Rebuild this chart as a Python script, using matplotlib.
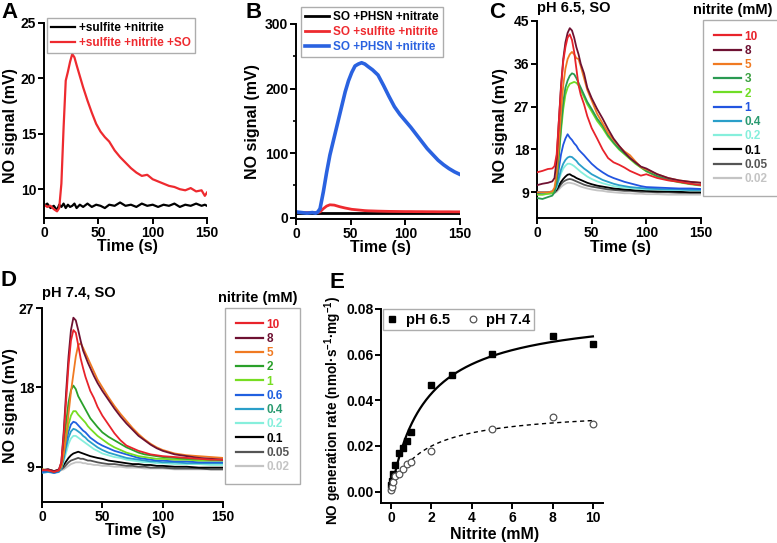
import matplotlib
matplotlib.use('Agg')
import matplotlib.pyplot as plt
import numpy as np
from matplotlib.ticker import FormatStrFormatter, MultipleLocator

plt.rcParams['font.family'] = ['Liberation Sans', 'DejaVu Sans']
plt.rcParams['font.weight'] = 'bold'
plt.rcParams['axes.labelweight'] = 'bold'
plt.rcParams['mathtext.fontset'] = 'custom'
plt.rcParams['mathtext.rm'] = 'Liberation Sans:bold'
plt.rcParams['mathtext.default'] = 'rm'

# ---------------- data ----------------
# panel A
tA = [0, 3, 6, 9, 12, 14, 16, 18, 20, 22, 24, 26, 28, 30, 33, 36, 40, 44, 48, 52, 56, 60,
      65, 70, 75, 80, 85, 90, 95, 100, 105, 110, 115, 120, 125, 130, 135, 140, 145, 148, 150]
a_so = [8.6, 8.4, 8.5, 8.2, 8.0, 8.3, 10.5, 15.5, 19.8, 20.6, 21.5, 22.2, 21.9, 21.2, 20.2, 19.2,
        18.0, 16.9, 15.9, 15.2, 14.7, 14.3, 13.5, 12.9, 12.4, 11.9, 11.5, 11.2, 11.3, 10.9, 10.7,
        10.5, 10.3, 10.2, 10.0, 9.9, 10.1, 9.8, 9.9, 9.4, 9.7]
a_ctrl = [8.5, 8.7, 8.3, 8.5, 8.1, 8.6, 8.4, 8.7, 8.3, 8.6, 8.4, 8.5, 8.7, 8.3, 8.6, 8.4, 8.7,
          8.4, 8.6, 8.5, 8.3, 8.6, 8.5, 8.8, 8.5, 8.6, 8.4, 8.7, 8.5, 8.6, 8.4, 8.6, 8.5, 8.7,
          8.4, 8.6, 8.5, 8.7, 8.5, 8.6, 8.5]
a_labels = ['+sulfite +nitrite', '+sulfite +nitrite +SO']

# panel B
tB = [0, 5, 10, 15, 18, 20, 22, 25, 28, 31, 35, 40, 45, 48, 51, 54, 57, 60, 63, 66, 70, 75,
      80, 85, 90, 95, 100, 105, 110, 115, 120, 125, 130, 135, 140, 145, 150]
b_phsn_nitrite = [9, 8, 7, 8, 7, 9, 14, 40, 70, 97, 125, 160, 195, 212, 225, 235, 238, 240, 238,
                  234, 229, 221, 205, 188, 172, 160, 150, 140, 129, 118, 107, 98, 89, 82, 76, 71, 67]
b_sulfite = [8, 8, 8, 8, 8, 8, 9, 14, 18, 20, 19.5, 17, 15, 14, 13, 12.5, 12, 11.5, 11, 10.7,
             10.5, 10.2, 10, 9.8, 9.7, 9.6, 9.5, 9.5, 9.4, 9.4, 9.3, 9.3, 9.2, 9.2, 9.2, 9.1, 9.1]
b_nitrate = [7.5] * len(tB)
b_labels = ['SO +PHSN +nitrate', 'SO +sulfite +nitrite', 'SO +PHSN +nitrite']

# panels C and D (same time grid)
tCD = [0, 5, 10, 14, 16, 18, 20, 22, 24, 26, 28, 30, 32, 34, 36, 38, 40, 43, 46, 50, 55, 60,
       65, 70, 75, 80, 85, 90, 95, 100, 110, 120, 130, 140, 150]

c_labels = ['10', '8', '5', '3', '2', '1', '0.4', '0.2', '0.1', '0.05', '0.02']
c_traces = [
    [13.2, 13.5, 13.9, 14.0, 14.5, 17, 24, 31, 36.5, 39.5, 41.5, 42.2, 41, 38.5, 35, 31.5, 29.5,
     27.5, 25, 22.5, 20.3, 18, 16.2, 15.3, 14.8, 14.2, 13.5, 13, 12.5, 12.8, 12, 11.5, 11.2, 10.8, 10.5],
    [10.5, 10.8, 11, 11.3, 12, 16, 24, 31.5, 37, 40.5, 42.5, 43.5, 43, 41.5, 39.5, 38, 36, 34, 31,
     28.8, 26.5, 24.5, 22.3, 20.3, 18.8, 17.4, 16.2, 15.3, 14.4, 14, 12.8, 12, 11.5, 11.2, 11],
    [9, 9, 9, 9.2, 10, 13, 19, 26, 31.5, 35, 37, 38, 38.5, 38, 37.2, 37, 35.5, 33, 30.5, 28.3,
     25.5, 23.5, 21.5, 20, 18.7, 17.6, 16.8, 15.5, 14.3, 13.8, 12.8, 12, 11.5, 11.2, 11],
    [7.8, 7.6, 8, 8.3, 9, 11.5, 17, 23, 28, 31, 32.5, 33.5, 34, 33.8, 33, 32, 31, 29.5, 28, 26.5,
     24.5, 23, 21, 19.5, 18.2, 17.2, 16.2, 15.2, 14.3, 13.5, 12.4, 11.7, 11.2, 10.8, 10.5],
    [8.5, 8.5, 8.7, 8.8, 9.5, 11.5, 16.5, 22, 26.5, 29.5, 31, 31.8, 32, 32.2, 32, 31.5, 30.5, 29,
     27.5, 26, 24, 22.5, 20.7, 19.3, 18, 17, 16, 15, 14.2, 13.4, 12.3, 11.6, 11.1, 10.7, 10.4],
    [9, 9, 9, 9.2, 9.5, 11, 14, 17, 19, 20.3, 21.2, 20.5, 20, 19.3, 18.8, 18, 17.5, 16.8, 16, 15,
     14, 13.2, 12.5, 12, 11.6, 11.2, 10.9, 10.6, 10.3, 10.1, 10, 9.9, 9.8, 9.8, 9.7],
    [9, 8.8, 9, 9, 9.3, 10.3, 12, 13.8, 15, 15.8, 16.3, 16.5, 16.4, 16, 15.6, 15, 14.6, 14, 13.5,
     12.8, 12.2, 11.6, 11.2, 10.8, 10.5, 10.3, 10.1, 10, 9.9, 9.8, 9.7, 9.6, 9.6, 9.5, 9.5],
    [9, 9, 8.9, 9, 9.2, 10, 11.5, 13, 14, 14.6, 15, 15, 14.8, 14.5, 14.1, 13.7, 13.3, 12.8, 12.3,
     11.8, 11.3, 10.9, 10.6, 10.3, 10.1, 10, 9.9, 9.8, 9.7, 9.6, 9.6, 9.5, 9.5, 9.4, 9.4],
    [8.8, 8.7, 8.9, 9, 9.1, 9.6, 10.4, 11.2, 11.8, 12.3, 12.7, 12.8, 12.5, 12.3, 12, 11.8, 11.6,
     11.3, 11, 10.7, 10.4, 10.2, 10, 9.8, 9.7, 9.6, 9.5, 9.4, 9.4, 9.3, 9.2, 9.2, 9.1, 9.0, 9.0],
    [8.7, 8.8, 8.8, 8.9, 9, 9.4, 10, 10.7, 11.2, 11.5, 11.7, 11.8, 11.7, 11.5, 11.3, 11.1, 10.9,
     10.6, 10.4, 10.2, 10, 9.8, 9.6, 9.5, 9.4, 9.3, 9.3, 9.2, 9.1, 9.1, 9, 9, 8.9, 8.9, 8.9],
    [8.6, 8.5, 8.7, 8.7, 8.8, 9.1, 9.6, 10.1, 10.5, 10.8, 11, 11, 10.9, 10.8, 10.6, 10.4, 10.2,
     10, 9.8, 9.6, 9.4, 9.3, 9.1, 9, 8.9, 8.8, 8.8, 8.7, 8.7, 8.6, 8.6, 8.5, 8.5, 8.5, 8.5],
]

d_labels = ['10', '8', '5', '2', '1', '0.6', '0.4', '0.2', '0.1', '0.05', '0.02']
d_traces = [
    [8.6, 8.6, 8.4, 8.6, 9.5, 12.5, 16.5, 20.5, 23.3, 24.5, 24.2, 22.8, 21.3, 20.2, 19.2, 18.4,
     17.6, 16.8, 15.8, 14.8, 13.8, 12.8, 12, 11.4, 11.1, 10.8, 10.6, 10.4, 10.3, 10.2, 10.1, 10, 9.9, 9.8, 9.8],
    [8.6, 8.7, 8.5, 8.7, 9.5, 13, 17.5, 21.5, 24.5, 25.9, 25.6, 24.5, 23.3, 22.2, 21.5, 20.8, 20.2,
     19.3, 18.5, 17.6, 16.6, 15.6, 14.7, 13.9, 13.2, 12.5, 12, 11.5, 11.1, 10.8, 10.4, 10.2, 10, 9.9, 9.8],
    [8.7, 8.6, 8.5, 8.6, 9, 10.5, 12.5, 15, 17.5, 19.5, 21.5, 22.8, 23, 22.5, 21.9, 21.3, 20.7,
     19.8, 18.9, 18, 16.9, 15.9, 15, 14.2, 13.4, 12.7, 12.1, 11.6, 11.2, 10.9, 10.5, 10.3, 10.2, 10.1, 10],
    [8.6, 8.6, 8.4, 8.6, 9.2, 11.5, 14, 16.3, 17.7, 18.2, 17.8, 17, 16.5, 16, 15.5, 15, 14.5, 14,
     13.5, 12.9, 12.4, 12, 11.6, 11.2, 10.9, 10.6, 10.4, 10.3, 10.2, 10.1, 10, 9.9, 9.9, 9.8, 9.8],
    [8.7, 8.6, 8.5, 8.6, 9, 10.5, 12.3, 13.8, 14.8, 15.3, 15.3, 14.9, 14.6, 14.3, 14, 13.6, 13.3,
     12.9, 12.5, 12.1, 11.6, 11.2, 10.9, 10.6, 10.4, 10.2, 10.1, 10, 9.9, 9.9, 9.8, 9.8, 9.7, 9.7, 9.7],
    [8.4, 8.5, 8.3, 8.5, 8.9, 10.2, 11.8, 13, 13.8, 14.1, 14, 13.7, 13.4, 13.1, 12.9, 12.6, 12.3,
     12, 11.7, 11.4, 11.1, 10.8, 10.6, 10.4, 10.2, 10, 9.9, 9.8, 9.7, 9.7, 9.6, 9.6, 9.5, 9.5, 9.5],
    [8.3, 8.4, 8.3, 8.4, 8.8, 9.9, 11.2, 12.3, 13, 13.3, 13.2, 13, 12.8, 12.5, 12.3, 12, 11.8,
     11.5, 11.2, 10.9, 10.6, 10.4, 10.2, 10, 9.9, 9.8, 9.7, 9.6, 9.6, 9.5, 9.5, 9.4, 9.4, 9.4, 9.4],
    [8.5, 8.4, 8.4, 8.5, 8.8, 9.6, 10.6, 11.6, 12.2, 12.5, 12.5, 12.3, 12.1, 11.9, 11.7, 11.5,
     11.3, 11, 10.8, 10.5, 10.3, 10.1, 10, 9.8, 9.7, 9.6, 9.5, 9.5, 9.4, 9.4, 9.3, 9.3, 9.3, 9.2, 9.2],
    [8.6, 8.7, 8.5, 8.6, 8.8, 9.2, 9.6, 10, 10.3, 10.5, 10.6, 10.7, 10.6, 10.5, 10.4, 10.3, 10.2,
     10.1, 10, 9.9, 9.7, 9.6, 9.5, 9.4, 9.3, 9.3, 9.2, 9.2, 9.1, 9.1, 9, 9, 8.9, 8.9, 8.9],
    [8.6, 8.6, 8.5, 8.6, 8.7, 8.9, 9.2, 9.5, 9.7, 9.8, 9.9, 10, 9.9, 9.9, 9.8, 9.7, 9.7, 9.6,
     9.5, 9.4, 9.3, 9.3, 9.2, 9.1, 9.1, 9, 9, 8.9, 8.9, 8.9, 8.8, 8.8, 8.8, 8.7, 8.7],
    [8.5, 8.5, 8.4, 8.5, 8.6, 8.7, 8.9, 9.1, 9.3, 9.4, 9.5, 9.5, 9.5, 9.4, 9.4, 9.3, 9.3, 9.2,
     9.2, 9.1, 9.1, 9, 9, 8.9, 8.9, 8.9, 8.8, 8.8, 8.8, 8.8, 8.7, 8.7, 8.7, 8.7, 8.7],
]

# panel E
e_x65 = [0.02, 0.05, 0.1, 0.2, 0.4, 0.6, 0.8, 1, 2, 3, 5, 8, 10]
e_y65 = [0.003, 0.0045, 0.0075, 0.0115, 0.017, 0.019, 0.022, 0.026, 0.0465, 0.051, 0.0605, 0.068, 0.0645]
e_x74 = [0.02, 0.05, 0.1, 0.2, 0.4, 0.6, 0.8, 1, 2, 5, 8, 10]
e_y74 = [0.0008, 0.002, 0.004, 0.0067, 0.0079, 0.0099, 0.0122, 0.0128, 0.0176, 0.0274, 0.0326, 0.0297]

# colours
c_cols = ['#e8232b', '#6e1132', '#f07a22', '#2a9a52', '#70dd26', '#2255e0', '#2a9fc9',
          '#86efdc', '#000000', '#555555', '#c4c4c4']
c_txt = ['#e8232b', '#6e1132', '#f07a22', '#3aa040', '#70dd26', '#2255e0', '#2a9a70',
         '#86efdc', '#000000', '#555555', '#c4c4c4']
d_cols = ['#e8232b', '#6e1132', '#f07a22', '#2aa02a', '#77dd22', '#2060e0', '#2a9fc9',
          '#86efdc', '#000000', '#555555', '#c4c4c4']
d_txt = ['#e8232b', '#6e1132', '#f07a22', '#2aa02a', '#77dd22', '#2060e0', '#2a9a70',
         '#86efdc', '#000000', '#555555', '#c4c4c4']

W, H = 777, 543
fig = plt.figure(figsize=(W / 100, H / 100), dpi=100)


def box(l, t, r, b):
    return [l / W, 1 - b / H, (r - l) / W, (b - t) / H]


def ftext(x, y, s, **kw):
    kw.setdefault('ha', 'center')
    kw.setdefault('va', 'center')
    kw.setdefault('fontweight', 'bold')
    fig.text(x / W, 1 - y / H, s, **kw)


def style(ax):
    for s in ['top', 'right']:
        ax.spines[s].set_visible(False)
    for s in ['left', 'bottom']:
        ax.spines[s].set_linewidth(1.4)
    ax.tick_params(width=1.4, length=4, labelsize=10, pad=1.5)
    ax.tick_params(which='minor', width=1.2, length=2.5)
    for lab in ax.get_xticklabels() + ax.get_yticklabels():
        lab.set_fontweight('bold')


# ---- A ----
axA = fig.add_axes(box(44, 23, 207, 218))
axA.plot(tA, a_ctrl, color='black', lw=1.6, label=a_labels[0])
axA.plot(tA, a_so, color='#ee2a2f', lw=1.6, label=a_labels[1])
axA.set_xlim(0, 150)
axA.set_ylim(7.4, 25)
axA.set_xticks([0, 50, 100, 150])
axA.set_yticks([10, 15, 20, 25])
style(axA)
legA = axA.legend(loc='upper left', bbox_to_anchor=(47 / W, 1 - 18 / H), bbox_transform=fig.transFigure,
                  fontsize=8.5, frameon=True, fancybox=False, handlelength=2.0, borderpad=0.35,
                  labelspacing=0.25, handletextpad=0.4, borderaxespad=0)
legA.get_frame().set_edgecolor('#999999')
legA.get_frame().set_linewidth(1.0)
for txt, c in zip(legA.get_texts(), ['black', '#ee2a2f']):
    txt.set_color(c)
    txt.set_fontweight('bold')

# ---- B ----
axB = fig.add_axes(box(296, 24, 460, 219))
axB.plot(tB, b_nitrate, color='black', lw=2.0, label=b_labels[0])
axB.plot(tB, b_sulfite, color='#ee2a2f', lw=2.0, label=b_labels[1])
axB.plot(tB, b_phsn_nitrite, color='#2a62e0', lw=2.6, label=b_labels[2])
axB.set_xlim(0, 150)
axB.set_ylim(-2, 300)
axB.set_xticks([0, 50, 100, 150])
axB.set_yticks([0, 100, 200, 300])
axB.yaxis.set_minor_locator(MultipleLocator(50))
style(axB)
legB = axB.legend(loc='upper left', bbox_to_anchor=(301 / W, 1 - 7 / H), bbox_transform=fig.transFigure,
                  fontsize=8.5, frameon=True, fancybox=False, handlelength=2.0, borderpad=0.35,
                  labelspacing=0.25, handletextpad=0.4, borderaxespad=0)
legB.get_frame().set_edgecolor('#999999')
legB.get_frame().set_linewidth(1.0)
for txt, c in zip(legB.get_texts(), ['black', '#ee2a2f', '#2a62e0']):
    txt.set_color(c)
    txt.set_fontweight('bold')


def conc_panel(ax, traces, labels, cols, txtcols, anchor):
    lines = []
    for vals, lab, col in zip(traces, labels, cols):
        ln, = ax.plot(tCD, vals, color=col, lw=1.3, label=lab)
        lines.append(ln)
    # draw lowest concentrations first
    for i, ln in enumerate(lines):
        ln.set_zorder(2 + len(lines) - i)
    leg = ax.legend(lines, labels, loc='upper left', bbox_to_anchor=anchor, bbox_transform=fig.transFigure,
                    fontsize=8.5, frameon=True, fancybox=False, handlelength=2.3, borderpad=0.9,
                    labelspacing=0.19, handletextpad=0.3, borderaxespad=0)
    leg.get_frame().set_edgecolor('#999999')
    leg.get_frame().set_linewidth(1.0)
    for txt, c in zip(leg.get_texts(), txtcols):
        txt.set_color(c)
        txt.set_fontweight('bold')
    for h in leg.get_lines():
        h.set_linewidth(1.6)
    return leg


# ---- C ----
axC = fig.add_axes(box(537, 21, 701, 218))
conc_panel(axC, c_traces, c_labels, c_cols, c_txt, (703 / W, 1 - 20 / H))
axC.set_xlim(0, 150)
axC.set_ylim(3.6, 45)
axC.set_xticks([0, 50, 100, 150])
axC.set_yticks([9, 18, 27, 36, 45])
style(axC)

# ---- D ----
axD = fig.add_axes(box(42, 308, 223, 502))
conc_panel(axD, d_traces, d_labels, d_cols, d_txt, (225 / W, 1 - 308 / H))
axD.set_xlim(0, 150)
axD.set_ylim(5.0, 27)
axD.set_xticks([0, 50, 100, 150])
axD.set_yticks([9, 18, 27])
style(axD)

# ---- E ----
axE = fig.add_axes(box(381, 309, 603, 503))


def mm_fit(x, y):
    # least-squares Michaelis-Menten fit: grid over Km, closed form Vmax
    x = np.asarray(x, float)
    y = np.asarray(y, float)
    best = None
    for km in np.linspace(0.05, 10, 2000):
        f = x / (km + x)
        vmax = (f @ y) / (f @ f)
        err = np.sum((vmax * f - y) ** 2)
        if best is None or err < best[0]:
            best = (err, vmax, km)
    return best[1], best[2]


xs = np.linspace(0, 10, 300)
v65, k65 = mm_fit(e_x65, e_y65)
v74, k74 = mm_fit(e_x74, e_y74)
axE.plot(xs, v65 * xs / (k65 + xs), color='black', lw=1.6)
axE.plot(xs, v74 * xs / (k74 + xs), color='black', lw=1.0, ls=(0, (3, 2.5)))
axE.plot(e_x65, e_y65, 's', color='black', ms=4.2, label='pH 6.5', zorder=5)
axE.plot(e_x74, e_y74, 'o', mfc='white', mec='#555555', mew=0.9, ms=4.8, label='pH 7.4', zorder=5)
axE.set_xlim(-0.5, 10.5)
axE.set_ylim(-0.005, 0.08)
axE.set_xticks([0, 2, 4, 6, 8, 10])
axE.set_yticks([0, 0.02, 0.04, 0.06, 0.08])
axE.yaxis.set_major_formatter(FormatStrFormatter('%.2f'))
style(axE)
legE = axE.legend(loc='upper left', bbox_to_anchor=(383 / W, 1 - 309 / H), bbox_transform=fig.transFigure,
                  ncol=2, fontsize=10.5, frameon=True, fancybox=False, handlelength=0.8,
                  handletextpad=0.5, columnspacing=1.2, borderpad=0.25, borderaxespad=0)
legE.get_frame().set_edgecolor('#999999')
legE.get_frame().set_linewidth(1.0)
for txt in legE.get_texts():
    txt.set_fontweight('bold')

# ---- labels ----
for (x, y, s) in [(9, 12, 'A'), (254, 12, 'B'), (497, 12, 'C'), (9, 281, 'D'), (337, 283, 'E')]:
    ftext(x, y, s, fontsize=16)

for (x, y) in [(11, 126), (253, 122), (500, 126), (11, 406)]:
    ftext(x, y, 'NO signal (mV)', fontsize=11.5, rotation=90)
ftext(333, 410, 'NO generation rate (nmol·s$^{-1}$·mg$^{-1}$)', fontsize=9.8, rotation=90)

for (x, y) in [(127, 246), (380, 247), (620, 247), (135, 531)]:
    ftext(x, y, 'Time (s)', fontsize=11.5)
ftext(495, 534, 'Nitrite (mM)', fontsize=11.5)

ftext(537, 8, 'pH 6.5, SO', fontsize=10.5, ha='left')
ftext(42, 293, 'pH 7.4, SO', fontsize=10.5, ha='left')
ftext(733, 10, 'nitrite (mM)', fontsize=10.5)
ftext(258, 298, 'nitrite (mM)', fontsize=10.5)

fig.savefig('out.png', dpi=100)
